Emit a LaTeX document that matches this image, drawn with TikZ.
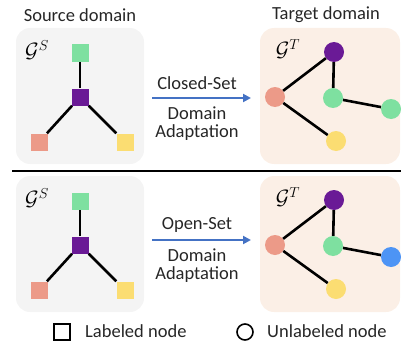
\documentclass[tikz,border=0pt]{standalone}
\usepackage{fontspec}
\setmainfont{Carlito}
\usetikzlibrary{arrows.meta}

\definecolor{srcfill}{RGB}{244,244,244}
\definecolor{tgtfill}{RGB}{251,239,230}
\definecolor{ngreen}{RGB}{126,224,160}
\definecolor{npurple}{RGB}{106,26,150}
\definecolor{nred}{RGB}{236,154,136}
\definecolor{nyellow}{RGB}{251,221,114}
\definecolor{nblue}{RGB}{77,148,245}
\definecolor{arrowblue}{RGB}{68,114,196}

\begin{document}
\begin{tikzpicture}[x=1pt,y=-1pt,font=\fontsize{18.5}{22}\selectfont]
	\tikzset{
		sq/.style={rectangle,minimum size=17pt,inner sep=0pt},
		dot/.style={circle,minimum size=20pt,inner sep=0pt},
		edge/.style={line width=2.6pt,black},
		domainbox/.style={rounded corners=14pt},
		glabel/.style={font=\fontsize{21}{24}\selectfont},
		txt/.style={text=black!85,inner sep=0pt}
	}
	\useasboundingbox (0,0) rectangle (401,345);

	\node[txt] (srctitle) at (80,15) {Source domain};
	\node[txt] (tgttitle) at (326,15) {Target domain};

	% one row per setting: closed set on top, open set below
	\foreach \r/\dy/\ay/\setname/\extra in {a/0/98/Closed-Set/ngreen, b/148/240/Open-Set/nblue} {
		\begin{scope}[yshift=-\dy pt]
			\fill[srcfill,domainbox] (16,28) rectangle (144,164);
			\fill[tgtfill,domainbox] (260,28) rectangle (400,164);
			\node[glabel] (gs\r) at (37,50) {$\mathcal{G}^{S}$};
			\node[glabel] (gt\r) at (288,49) {$\mathcal{G}^{T}$};

			% labeled source graph
			\node[sq,fill=ngreen] (sg\r) at (80,53) {};
			\node[sq,fill=npurple] (sp\r) at (80,97) {};
			\node[sq,fill=nred] (sr\r) at (39,142) {};
			\node[sq,fill=nyellow] (sy\r) at (125,142) {};
			\draw[edge] (sp\r) -- (sg\r);
			\draw[edge] (sp\r) -- (sr\r);
			\draw[edge] (sp\r) -- (sy\r);

			% unlabeled target graph
			\node[dot,fill=npurple] (tp\r) at (334,52) {};
			\node[dot,fill=nred] (tr\r) at (275,97) {};
			\node[dot,fill=ngreen] (tg\r) at (333,98) {};
			\node[dot,fill=\extra] (te\r) at (391,109) {};
			\node[dot,fill=nyellow] (ty\r) at (336,141) {};
			\draw[edge] (tr\r) -- (tp\r);
			\draw[edge] (tp\r) -- (tg\r);
			\draw[edge] (tg\r) -- (te\r);
			\draw[edge] (tr\r) -- (ty\r);
		\end{scope}

		\coordinate (from\r) at (152,\ay);
		\coordinate (to\r) at (251,\ay);
		\draw[arrowblue,line width=2pt,-{Triangle[length=8pt,width=8pt]}] (from\r) -- (to\r);
		\node[txt] (set\r) at (197,\ay-15) {\setname};
		\node[txt] (dom\r) at (197,\ay+15) {Domain};
		\node[txt] (ada\r) at (197,\ay+35) {Adaptation};
	}

	% separator
	\coordinate (sepl) at (12,171);
	\coordinate (sepr) at (401,171);
	\draw[line width=1.3pt] (sepl) -- (sepr);

	% legend
	\node[draw,line width=1.6pt,minimum size=16pt,inner sep=0pt] (keysq) at (62,332) {};
	\node[txt,anchor=west] (keysqtxt) at (85,331) {Labeled node};
	\node[draw,circle,line width=1.6pt,minimum size=16pt,inner sep=0pt] (keydot) at (245,332) {};
	\node[txt,anchor=west] (keydottxt) at (267,331) {Unlabeled node};
\end{tikzpicture}
\end{document}
